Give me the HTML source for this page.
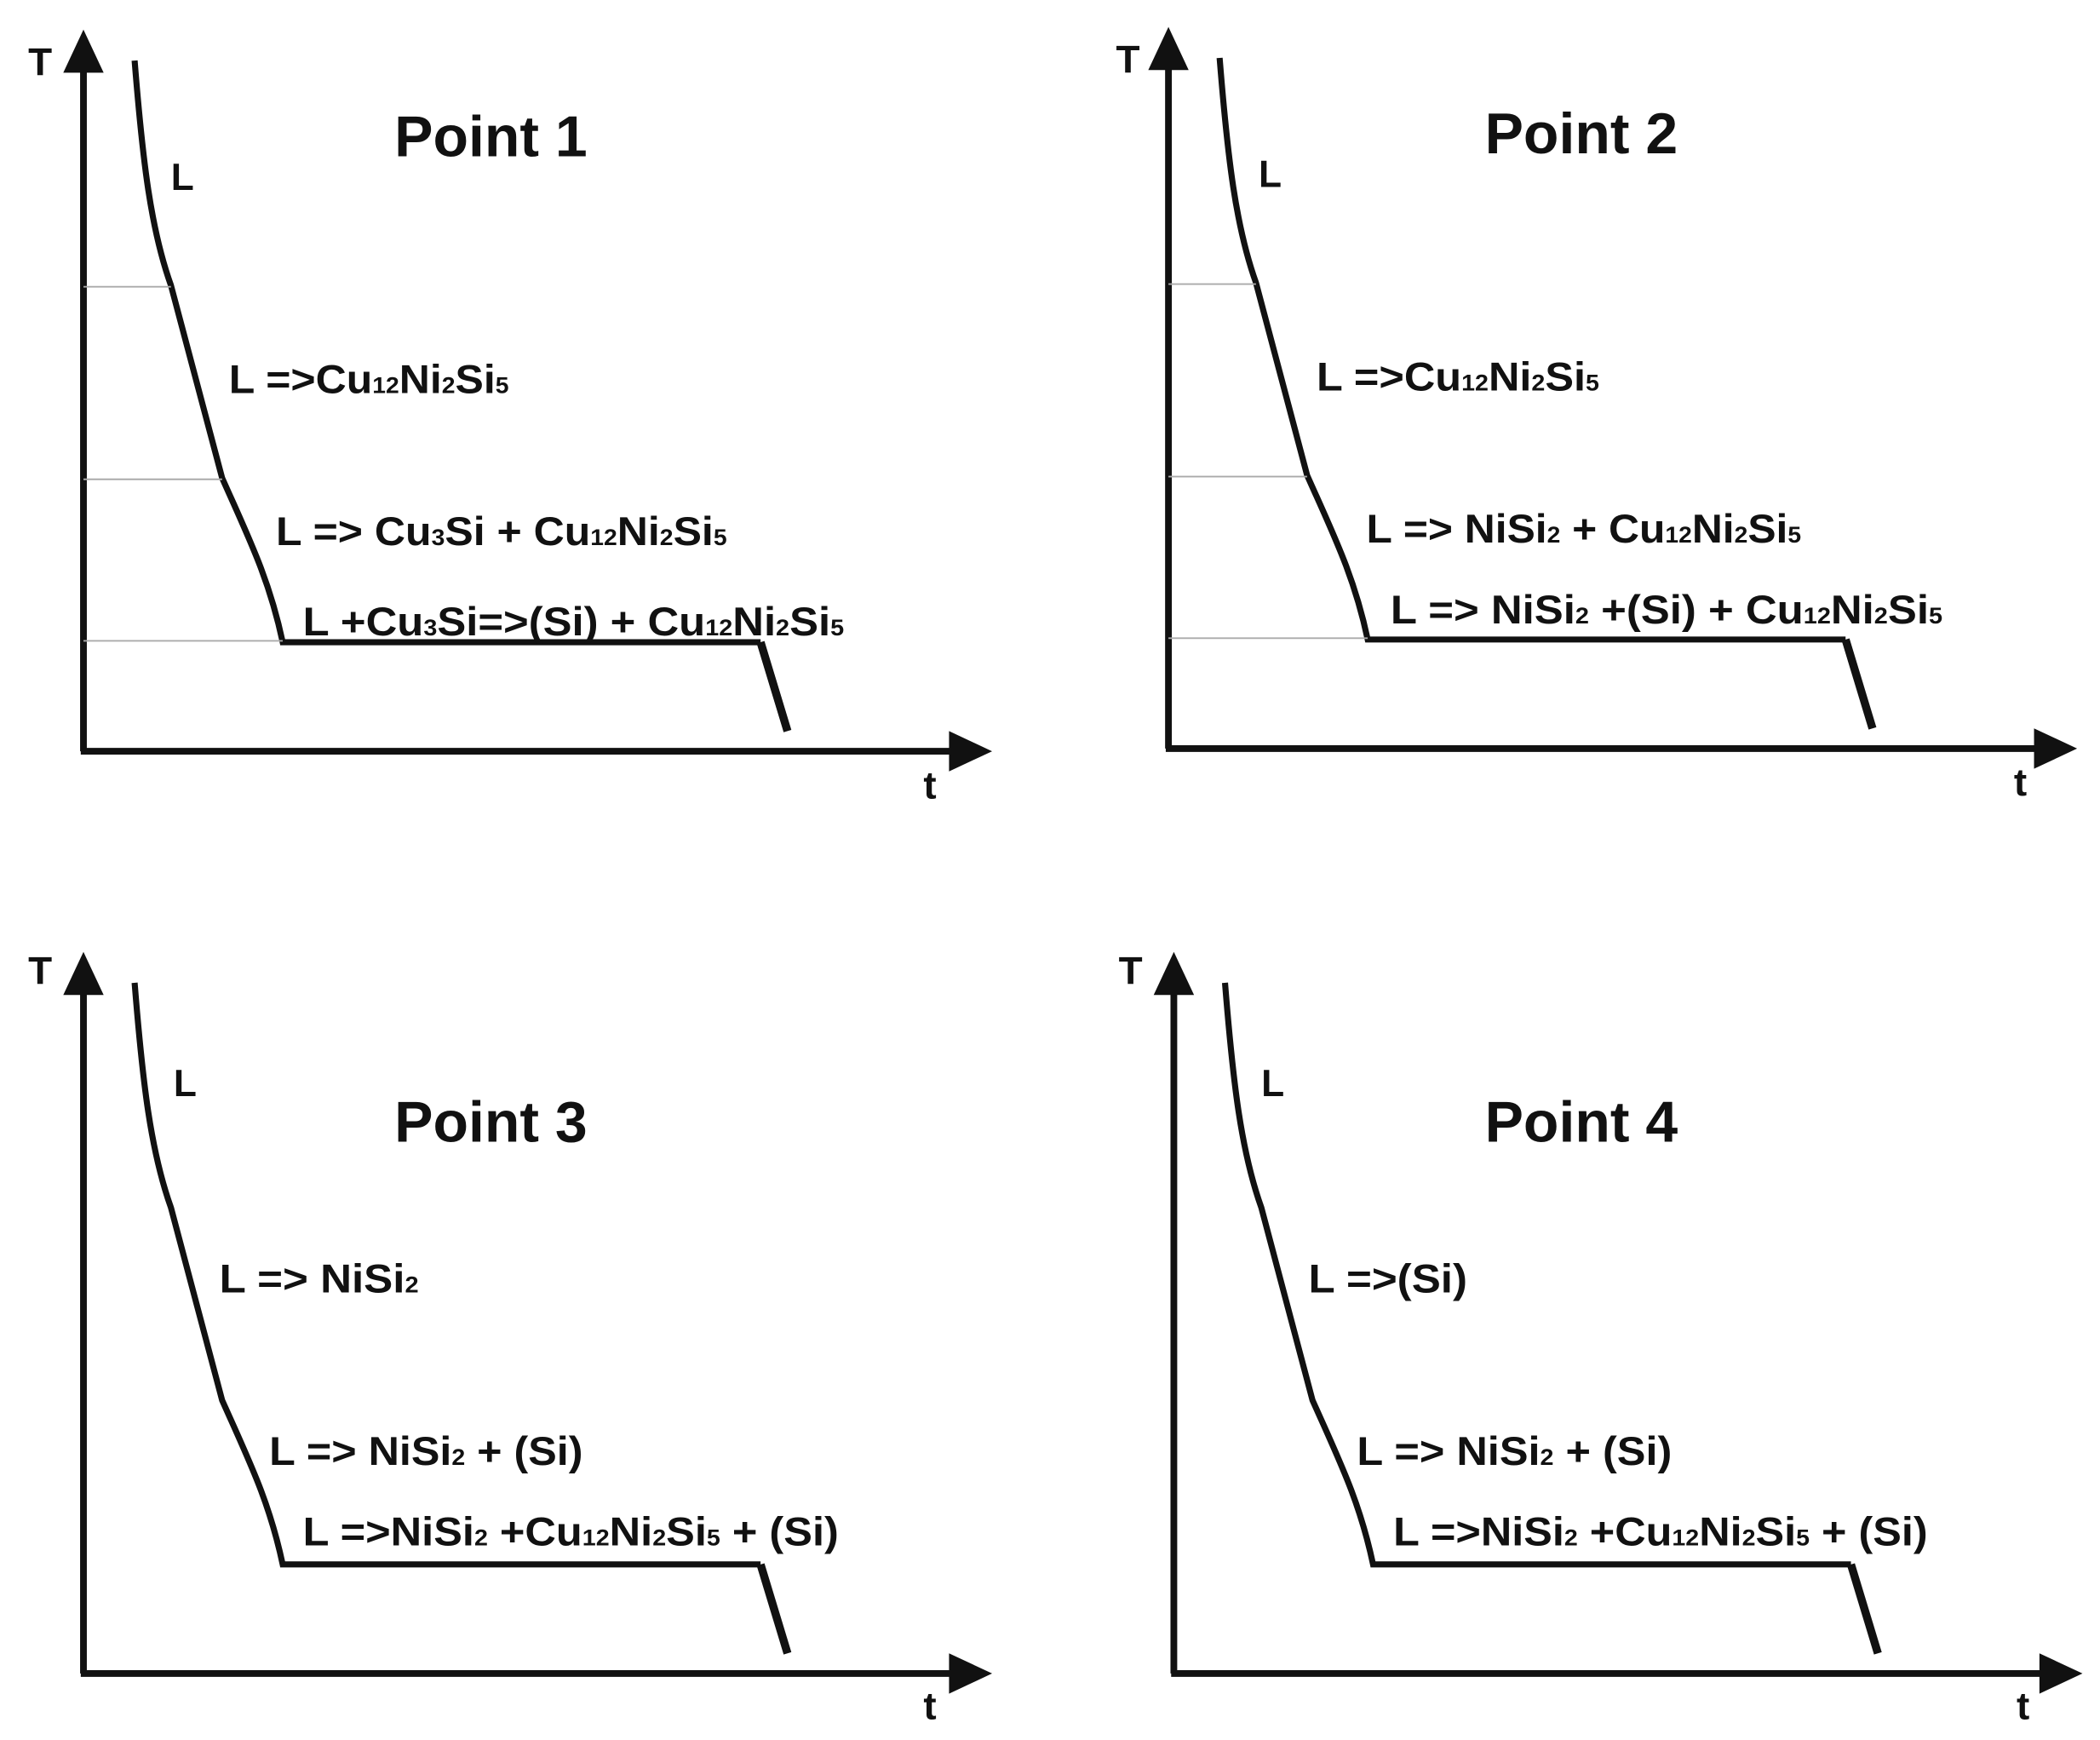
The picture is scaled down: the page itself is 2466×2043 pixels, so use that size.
<!DOCTYPE html>
<html><head><meta charset="utf-8"><style>
html,body{margin:0;padding:0;background:#fff;}
svg{display:block;}
text{font-family:"Liberation Sans",Arial,sans-serif;font-weight:bold;fill:#111;}
</style></head><body>
<svg width="2466" height="2043" viewBox="0 0 1560 1292.4" preserveAspectRatio="none" xmlns="http://www.w3.org/2000/svg">
<rect width="1560" height="1292.4" fill="#fff"/>
<defs>
<g id="axes">
  <line x1="62" y1="50" x2="62" y2="558" stroke="#111" stroke-width="5"/>
  <polygon points="62,22 47,54 77,54" fill="#111"/>
  <line x1="60" y1="558" x2="710" y2="558" stroke="#111" stroke-width="5"/>
  <polygon points="737,558 705,543 705,573" fill="#111"/>
  <path d="M100,45 C106,120 112,170 127,212 L165,355 C185,400 200,430 210,477 L565,477" fill="none" stroke="#111" stroke-width="4.5"/>
  <line x1="565" y1="477" x2="585" y2="543" stroke="#111" stroke-width="6"/>
</g>
</defs>

<!-- Panel 1 -->
<use href="#axes"/>
<g stroke="#aaa" stroke-width="1.2">
<line x1="62" y1="213" x2="127" y2="213"/><line x1="62" y1="356" x2="165" y2="356"/><line x1="62" y1="476" x2="210" y2="476"/>
</g>
<text x="21" y="56" font-size="29">T</text>
<text x="686" y="593" font-size="29">t</text>
<text x="293" y="116" font-size="43">Point 1</text>
<text x="127" y="141" font-size="28">L</text>
<text x="170" y="292" font-size="30" textLength="208" lengthAdjust="spacingAndGlyphs">L =&gt;Cu<tspan font-size="17">12</tspan>Ni<tspan font-size="17">2</tspan>Si<tspan font-size="17">5</tspan></text>
<text x="205" y="405" font-size="30" textLength="335" lengthAdjust="spacingAndGlyphs">L =&gt; Cu<tspan font-size="17">3</tspan>Si + Cu<tspan font-size="17">12</tspan>Ni<tspan font-size="17">2</tspan>Si<tspan font-size="17">5</tspan></text>
<text x="225" y="472" font-size="30" textLength="402" lengthAdjust="spacingAndGlyphs">L +Cu<tspan font-size="17">3</tspan>Si=&gt;(Si) + Cu<tspan font-size="17">12</tspan>Ni<tspan font-size="17">2</tspan>Si<tspan font-size="17">5</tspan></text>

<!-- Panel 2 -->
<g transform="translate(806,-2)">
<use href="#axes"/>
<g stroke="#aaa" stroke-width="1.2">
<line x1="62" y1="213" x2="127" y2="213"/><line x1="62" y1="356" x2="165" y2="356"/><line x1="62" y1="476" x2="210" y2="476"/>
</g>
</g>
<text x="829" y="54" font-size="29">T</text>
<text x="1496" y="591" font-size="29">t</text>
<text x="1103" y="114" font-size="43">Point 2</text>
<text x="935" y="139" font-size="28">L</text>
<text x="978" y="290" font-size="30" textLength="210" lengthAdjust="spacingAndGlyphs">L =&gt;Cu<tspan font-size="17">12</tspan>Ni<tspan font-size="17">2</tspan>Si<tspan font-size="17">5</tspan></text>
<text x="1015" y="403" font-size="30" textLength="323" lengthAdjust="spacingAndGlyphs">L =&gt; NiSi<tspan font-size="17">2</tspan> + Cu<tspan font-size="17">12</tspan>Ni<tspan font-size="17">2</tspan>Si<tspan font-size="17">5</tspan></text>
<text x="1033" y="463" font-size="30" textLength="410" lengthAdjust="spacingAndGlyphs">L =&gt; NiSi<tspan font-size="17">2</tspan> +(Si) + Cu<tspan font-size="17">12</tspan>Ni<tspan font-size="17">2</tspan>Si<tspan font-size="17">5</tspan></text>

<!-- Panel 3 -->
<g transform="translate(0,685)"><use href="#axes"/></g>
<text x="21" y="731" font-size="29">T</text>
<text x="686" y="1277" font-size="29">t</text>
<text x="293" y="848" font-size="43">Point 3</text>
<text x="129" y="814" font-size="28">L</text>
<text x="163" y="960" font-size="30" textLength="148" lengthAdjust="spacingAndGlyphs">L =&gt; NiSi<tspan font-size="17">2</tspan></text>
<text x="200" y="1088" font-size="30" textLength="233" lengthAdjust="spacingAndGlyphs">L =&gt; NiSi<tspan font-size="17">2</tspan> + (Si)</text>
<text x="225" y="1148" font-size="30" textLength="398" lengthAdjust="spacingAndGlyphs">L =&gt;NiSi<tspan font-size="17">2</tspan> +Cu<tspan font-size="17">12</tspan>Ni<tspan font-size="17">2</tspan>Si<tspan font-size="17">5</tspan> + (Si)</text>

<!-- Panel 4 -->
<g transform="translate(810,685)"><use href="#axes"/></g>
<text x="831" y="731" font-size="29">T</text>
<text x="1498" y="1277" font-size="29">t</text>
<text x="1103" y="848" font-size="43">Point 4</text>
<text x="937" y="814" font-size="28">L</text>
<text x="972" y="960" font-size="30" textLength="118" lengthAdjust="spacingAndGlyphs">L =&gt;(Si)</text>
<text x="1008" y="1088" font-size="30" textLength="234" lengthAdjust="spacingAndGlyphs">L =&gt; NiSi<tspan font-size="17">2</tspan> + (Si)</text>
<text x="1035" y="1148" font-size="30" textLength="397" lengthAdjust="spacingAndGlyphs">L =&gt;NiSi<tspan font-size="17">2</tspan> +Cu<tspan font-size="17">12</tspan>Ni<tspan font-size="17">2</tspan>Si<tspan font-size="17">5</tspan> + (Si)</text>
</svg>
</body></html>
